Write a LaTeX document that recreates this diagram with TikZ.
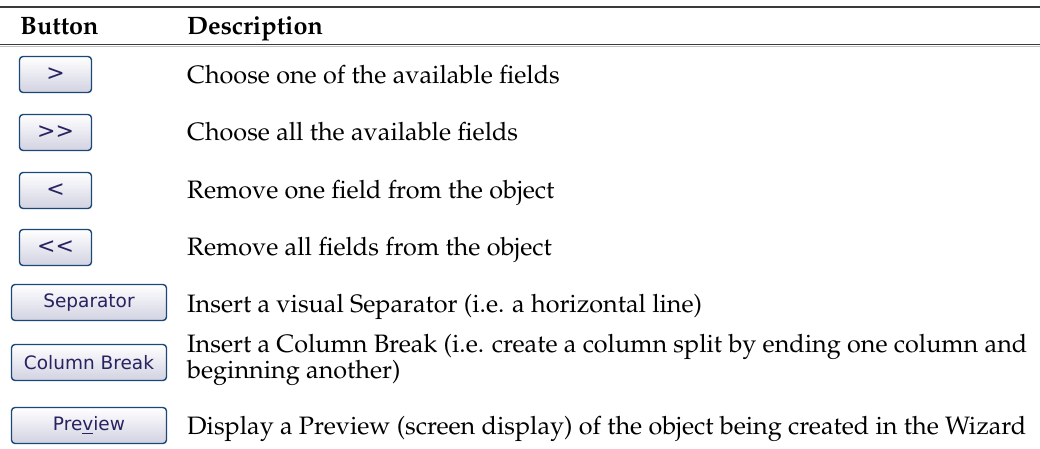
\documentclass[tikz,border=0pt]{standalone}
\usepackage{fontspec}
\newfontfamily\btnfont{DejaVu Sans}
\usepackage[T1]{fontenc}
\usepackage{mathpazo}
\definecolor{rulegray}{RGB}{58,58,58}
\definecolor{btnedge}{RGB}{28,72,120}
\definecolor{btnbottom}{RGB}{210,210,226}
\definecolor{btntext}{RGB}{40,34,96}
\begin{document}
\begin{tikzpicture}[x=1pt,y=-1pt,
  btn/.style={draw=btnedge, line width=1.4pt, rounded corners=3.5pt,
    top color=white, bottom color=btnbottom, inner sep=0pt,
    minimum height=36pt, text=btntext,
    font=\btnfont\fontsize{18.5}{20}\selectfont},
  smallbtn/.style={btn, minimum width=72pt,
    font=\btnfont\fontsize{22}{22}\selectfont},
  widebtn/.style={btn, minimum width=155pt},
  head/.style={anchor=base west, inner sep=0pt,
    font=\fontsize{25.2}{24}\selectfont\bfseries},
  desc/.style={anchor=base west, inner sep=0pt, align=left,
    font=\fontsize{25.2}{23.5}\selectfont}]
\useasboundingbox (0,0) rectangle (1040,449);

% table rules
\coordinate (topL) at (0,7);
\coordinate (topR) at (1040,7);
\coordinate (midL) at (0,45);
\coordinate (midR) at (1040,45);
\coordinate (midL2) at (0,46.4);
\coordinate (midR2) at (1040,46.4);
\draw[rulegray, line width=1.5pt] (topL) -- (topR);
\draw[rulegray, line width=1pt] (midL) -- (midR);
\draw[black!25, line width=0.8pt] (midL2) -- (midR2);

% header
\node[head] (hbtn) at (20,35) {Button};
\node[head] (hdesc) at (187,35) {Description};

% buttons
\node[smallbtn] (b1) at (55.5,74.5) {>};
\node[smallbtn] (b2) at (55.5,132.5) {>>};
\node[smallbtn] (b3) at (55.5,190.5) {<};
\node[smallbtn] (b4) at (55.5,247.5) {<<};
\node[widebtn] (b5) at (89,302.5) {Separator};
\node[widebtn] (b6) at (89,362.5) {Column Break};
\node[widebtn] (b7) at (89,425.5) {Pre\underline{v}iew};

% descriptions (a two-line node sits on its last baseline)
\node[desc] (d1) at (187,84) {Choose one of the available fields};
\node[desc] (d2) at (187,141) {Choose all the available fields};
\node[desc] (d3) at (187,198) {Remove one field from the object};
\node[desc] (d4) at (187,255) {Remove all fields from the object};
\node[desc] (d5) at (187,312) {Insert a visual Separator (i.e. a horizontal line)};
\node[desc] (d6) at (187,378.5) {Insert a Column Break (i.e. create a column split by ending one column and\\beginning another)};
\node[desc] (d7) at (187,434) {Display a Preview (screen display) of the object being created in the Wizard};
\end{tikzpicture}
\end{document}
